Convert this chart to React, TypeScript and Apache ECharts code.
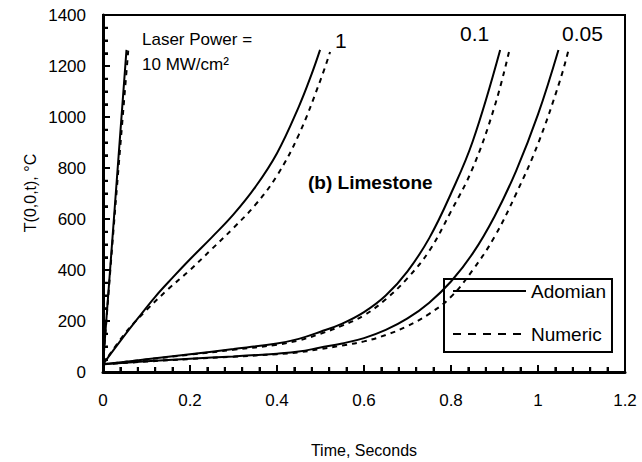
import React, { useEffect, useRef } from "react";
import * as echarts from "echarts";

// Time (s) and temperature (°C) readings, one pair of arrays per curve
const adomian10T = [0, 0.027, 0.054];
const adomian10V = [30, 645, 1263];
const numeric10T = [0, 0.028, 0.058];
const numeric10V = [30, 640, 1260];

const adomian1T = [0, 0.04, 0.08, 0.12, 0.16, 0.2, 0.25, 0.3, 0.35, 0.4, 0.45, 0.48, 0.499];
const adomian1V = [30, 122, 210, 295, 370, 442, 528, 618, 725, 858, 1040, 1170, 1263];
const numeric1T = [0, 0.05, 0.1, 0.15, 0.2, 0.25, 0.3, 0.35, 0.4, 0.45, 0.5, 0.522];
const numeric1V = [30, 150, 243, 325, 400, 482, 565, 655, 770, 930, 1145, 1255];

const adomian01T = [0, 0.1, 0.2, 0.3, 0.4, 0.45, 0.5, 0.55, 0.6, 0.65, 0.7, 0.75, 0.8, 0.85, 0.913];
const adomian01V = [30, 50, 70, 90, 112, 130, 158, 190, 235, 300, 395, 525, 700, 905, 1263];
const numeric01T = [0, 0.1, 0.2, 0.3, 0.4, 0.45, 0.5, 0.55, 0.6, 0.65, 0.7, 0.75, 0.8, 0.85, 0.9, 0.934];
const numeric01V = [30, 49, 68, 87, 107, 124, 150, 182, 222, 285, 368, 475, 630, 800, 1040, 1260];

const adomian005T = [0, 0.1, 0.2, 0.3, 0.4, 0.45, 0.5, 0.55, 0.6, 0.65, 0.7, 0.75, 0.8, 0.85, 0.9, 0.95, 1.0, 1.047];
const adomian005V = [30, 42, 52, 61, 72, 80, 96, 112, 133, 165, 210, 272, 355, 465, 610, 790, 1010, 1263];
const numeric005T = [0, 0.1, 0.2, 0.3, 0.4, 0.45, 0.5, 0.55, 0.6, 0.65, 0.7, 0.75, 0.8, 0.85, 0.9, 0.95, 1.0, 1.05, 1.07];
const numeric005V = [30, 41, 51, 60, 70, 77, 90, 104, 120, 145, 180, 228, 295, 400, 530, 700, 895, 1140, 1262];

const xTicks = [0, 0.2, 0.4, 0.6, 0.8, 1, 1.2];
const yTicks = [0, 200, 400, 600, 800, 1000, 1200, 1400];
const xMinorPerMajor = 5;
const yMinorPerMajor = 4;

const axisTitles = ["Time, Seconds", "T(0,0,t), °C"];
const legendNames = ["Adomian", "Numeric"];
const curveLabels = ["Laser Power =", "10 MW/cm²", "1", "0.1", "0.05", "(b) Limestone"];

const FONT = "'Liberation Sans', Arial, Helvetica, sans-serif";

const zip = (t: number[], v: number[]) => t.map((x, i) => [x, v[i]]);

// tick values (value, isMajor) built from the major tick lists
const subdivide = (ticks: number[], n: number) => {
  const out: number[][] = [];
  for (let i = 0; i < ticks.length; i++) {
    out.push([ticks[i], 1]);
    if (i < ticks.length - 1) {
      const step = (ticks[i + 1] - ticks[i]) / n;
      for (let k = 1; k < n; k++) out.push([ticks[i] + step * k, 0]);
    }
  }
  return out;
};

// layout of the plot box
const GRID = { left: 103, right: 17, top: 15, bottom: 90 };
const W = 642;
const H = 462;
const MAJOR_PX = 7;
const MINOR_PX = 5;

export default function App() {
  const ref = useRef<HTMLDivElement>(null);

  useEffect(() => {
    if (!ref.current) return;
    const chart = echarts.init(ref.current, undefined, { renderer: "svg" });

    const solid = (data: number[][]) => ({
      type: "line",
      name: legendNames[0],
      data,
      showSymbol: false,
      symbol: "none",
      smooth: 0.4,
      lineStyle: { color: "#000", width: 2, type: "solid" },
      itemStyle: { color: "#000" },
    });
    const dashed = (data: number[][]) => ({
      type: "line",
      name: legendNames[1],
      data,
      showSymbol: false,
      symbol: "none",
      smooth: 0.4,
      lineStyle: { color: "#000", width: 2, type: [5, 5] },
      itemStyle: { color: "#000" },
    });

    const xMin = xTicks[0];
    const xMax = xTicks[xTicks.length - 1];
    const yMin = yTicks[0];
    const yMax = yTicks[yTicks.length - 1];
    // data units per pixel, so tick lengths can be expressed through the axes' scales
    const xPerPx = (xMax - xMin) / (W - GRID.left - GRID.right);
    const yPerPx = (yMax - yMin) / (H - GRID.top - GRID.bottom);

    // inward tick marks as broken line segments
    const xTickData: any[] = [];
    subdivide(xTicks, xMinorPerMajor).forEach(([v, major]) => {
      const len = (major ? MAJOR_PX : MINOR_PX) * yPerPx;
      xTickData.push([v, yMin], [v, yMin + len], [v, "-"]);
    });
    const yTickData: any[] = [];
    subdivide(yTicks, yMinorPerMajor).forEach(([v, major]) => {
      const len = (major ? MAJOR_PX : MINOR_PX) * xPerPx;
      yTickData.push([xMin, v], [xMin + len, v], ["-", v]);
    });
    const tickSeries = (name: string, data: any[]) => ({
      type: "line",
      name,
      data,
      showSymbol: false,
      symbol: "none",
      connectNulls: false,
      clip: false,
      silent: true,
      z: 5,
      lineStyle: { color: "#000", width: 2, type: "solid", cap: "butt" },
      itemStyle: { color: "#000" },
    });

    chart.setOption({
      animation: false,
      grid: { left: GRID.left, right: GRID.right, top: GRID.top, bottom: GRID.bottom },
      xAxis: {
        type: "value",
        min: xMin,
        max: xMax,
        interval: 0.2,
        axisLine: { show: true, lineStyle: { color: "#000", width: 3 } },
        axisTick: { show: true, inside: true, length: MAJOR_PX, lineStyle: { color: "#000", width: 2 } },
        minorTick: { show: true, splitNumber: xMinorPerMajor, length: MINOR_PX, lineStyle: { color: "#000", width: 2 } },
        splitLine: { show: false },
        axisLabel: {
          margin: 20,
          fontSize: 17,
          color: "#000",
          fontFamily: FONT,
          formatter: (v: number) => String(Math.round(v * 10) / 10),
        },
      },
      yAxis: {
        type: "value",
        min: yMin,
        max: yMax,
        interval: 200,
        axisLine: { show: true, lineStyle: { color: "#000", width: 3 } },
        axisTick: { show: true, inside: true, length: MAJOR_PX, lineStyle: { color: "#000", width: 2 } },
        minorTick: { show: true, splitNumber: yMinorPerMajor, length: MINOR_PX, lineStyle: { color: "#000", width: 2 } },
        splitLine: { show: false },
        axisLabel: {
          margin: 17,
          fontSize: 17,
          color: "#000",
          fontFamily: FONT,
          formatter: (v: number) => String(v),
        },
      },
      legend: {
        show: true,
        orient: "vertical",
        left: 444,
        top: 279,
        itemWidth: 73,
        itemHeight: 14,
        itemGap: 21,
        padding: [1, 6, 7, 8],
        borderColor: "#000",
        borderWidth: 2,
        borderRadius: 0,
        backgroundColor: "transparent",
        selectedMode: false,
        textStyle: { fontSize: 19, color: "#000", fontFamily: FONT, lineHeight: 22 },
        data: [
          {
            name: legendNames[0],
            lineStyle: { type: "solid", width: 2, color: "#000" },
            itemStyle: { color: "rgba(0,0,0,0)", borderWidth: 0, opacity: 0 },
          },
          {
            name: legendNames[1],
            lineStyle: { type: [8, 7], width: 2, color: "#000" },
            itemStyle: { color: "rgba(0,0,0,0)", borderWidth: 0, opacity: 0 },
          },
        ],
      },
      graphic: [
        {
          type: "rect",
          silent: true,
          z: -1,
          shape: {
            x: GRID.left,
            y: GRID.top,
            width: W - GRID.left - GRID.right,
            height: H - GRID.top - GRID.bottom,
          },
          style: { fill: "none", stroke: "#000", lineWidth: 2 },
        },
        {
          type: "text",
          x: 364,
          y: 450,
          style: { text: axisTitles[0], fill: "#000", font: `16px ${FONT}`, align: "center", verticalAlign: "middle" },
        },
        {
          type: "text",
          x: 30,
          y: 193,
          rotation: Math.PI / 2,
          style: { text: axisTitles[1], fill: "#000", font: `16px ${FONT}`, align: "center", verticalAlign: "middle" },
        },
        { type: "text", left: 142, top: 31, style: { text: curveLabels[0], fill: "#000", font: `17px ${FONT}` } },
        { type: "text", left: 142, top: 56, style: { text: curveLabels[1], fill: "#000", font: `17px ${FONT}` } },
        { type: "text", left: 335, top: 30, style: { text: curveLabels[2], fill: "#000", font: `21px ${FONT}` } },
        { type: "text", left: 460, top: 23, style: { text: curveLabels[3], fill: "#000", font: `21px ${FONT}` } },
        { type: "text", left: 562, top: 23, style: { text: curveLabels[4], fill: "#000", font: `21px ${FONT}` } },
        { type: "text", left: 308, top: 173, style: { text: curveLabels[5], fill: "#000", font: `bold 19px ${FONT}` } },
      ],
      series: [
        solid(zip(adomian10T, adomian10V)),
        dashed(zip(numeric10T, numeric10V)),
        solid(zip(adomian1T, adomian1V)),
        dashed(zip(numeric1T, numeric1V)),
        solid(zip(adomian01T, adomian01V)),
        dashed(zip(numeric01T, numeric01V)),
        solid(zip(adomian005T, adomian005V)),
        dashed(zip(numeric005T, numeric005V)),
        tickSeries("xTickMarks", xTickData),
        tickSeries("yTickMarks", yTickData),
      ],
    });

    return () => chart.dispose();
  }, []);

  return (
    <div
      ref={ref}
      style={{ position: "fixed", left: 0, top: 0, width: W, height: H, background: "#fff" }}
    />
  );
}
